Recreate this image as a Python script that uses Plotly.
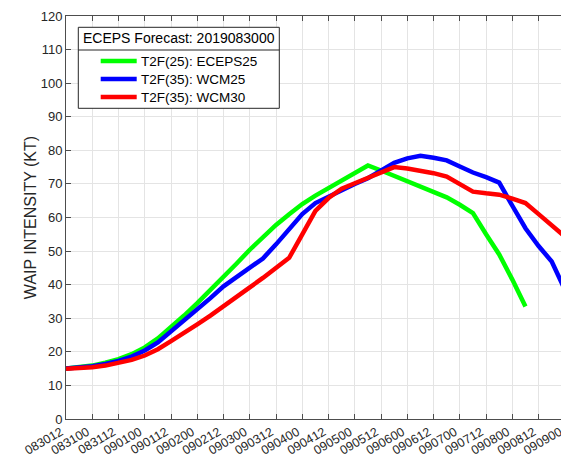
import plotly.graph_objects as go

# 6-hourly lead times (hours after 2019-08-30 12Z)
hours = [6 * k for k in range(40)]

tick_hours = [12 * k for k in range(20)]
tick_labels = ["083012", "083100", "083112", "090100", "090112", "090200", "090212",
               "090300", "090312", "090400", "090412", "090500", "090512", "090600",
               "090612", "090700", "090712", "090800", "090812", "090900"]

eceps25 = [15, 15.3, 15.9, 16.8, 17.8, 19.3, 21.3, 24, 27.3, 30.8, 34.5, 38.3, 42.2, 46.3,
           50.4, 54.2, 57.8, 61, 64, 66.5, 68.8, 71, 73.3, 75.5, 74, 72.4, 70.8, 69.1,
           67.6, 66, 63.8, 61.3, 55, 49, 41.5, 33.5]
wcm25 = [15, 15.2, 15.7, 16.4, 17.3, 18.6, 20.4, 22.8, 26, 29.2, 32.5, 36, 39.5, 42.2,
         45, 47.8, 52, 56.5, 61, 64.3, 66.3, 68.2, 70, 71.7, 74, 76.3, 77.6, 78.4,
         77.8, 77, 75.2, 73.4, 72, 70.4, 63.5, 56.8, 51.5, 46.9, 38.5, 30]
wcm30 = [15, 15.1, 15.4, 15.9, 16.6, 17.6, 18.9, 20.8, 23.2, 25.6, 28.2, 30.8, 33.5, 36.3,
         39.2, 42, 45, 48, 55, 62, 65.8, 68.6, 70.2, 71.7, 73.4, 75, 74.6, 74, 73.2,
         72.2, 70, 67.7, 67.2, 66.8, 65.6, 64.3, 61, 57.6, 54.3, 51]

series_names = ["T2F(25): ECEPS25", "T2F(35): WCM25", "T2F(35): WCM30"]
series_values = [eceps25, wcm25, wcm30]
series_colors = ["#00ff00", "#0000ff", "#ff0000"]
legend_title = "ECEPS Forecast: 2019083000"

# page has an 8px body margin; figure sized to fill the 569x461 window
W, H = 561, 453
ML, MR, MT, MB = 58, 0, 8, 42
PAGE_OFF = 8
PLOT_LEFT = ML + PAGE_OFF
PLOT_BOTTOM = H - MB + PAGE_OFF
PW, PH = W - ML - MR, H - MT - MB


def px_x(p):
    return (p - PLOT_LEFT) / PW


def px_y(p):
    return (PLOT_BOTTOM - p) / PH


fig = go.Figure()
for name, vals, color in zip(series_names, series_values, series_colors):
    fig.add_trace(go.Scatter(
        x=hours[:len(vals)], y=vals, mode="lines", name=name,
        line=dict(color=color, width=4.5), showlegend=False,
    ))

axis_col = "#4d4d4d"
grid_col = "#e4e4e4"
font_family = "Liberation Sans, Arial, sans-serif"

# legend box drawn in the upper-left corner
shapes = [
    dict(type="rect", xref="paper", yref="paper",
         x0=px_x(78.3), x1=px_x(279.3), y0=px_y(108.3), y1=px_y(27.3),
         fillcolor="white", line=dict(color="#262626", width=1), layer="above"),
    dict(type="line", xref="paper", yref="paper",
         x0=px_x(78.3), x1=px_x(279.3), y0=px_y(50), y1=px_y(50),
         line=dict(color="#262626", width=1), layer="above"),
]
annotations = [
    dict(text=legend_title, xref="paper", yref="paper", x=px_x(178.8), y=px_y(37.5),
         xanchor="center", yanchor="middle", showarrow=False,
         font=dict(size=14, color="black", family=font_family)),
]
item_y = [61, 79, 97]
for name, color, yy in zip(series_names, series_colors, item_y):
    shapes.append(dict(type="line", xref="paper", yref="paper",
                       x0=px_x(100.7), x1=px_x(136.7), y0=px_y(yy), y1=px_y(yy),
                       line=dict(color=color, width=4.5), layer="above"))
    annotations.append(dict(text=name, xref="paper", yref="paper", x=px_x(138.5), y=px_y(yy),
                            xanchor="left", yanchor="middle", showarrow=False,
                            font=dict(size=13.5, color="black", family=font_family)))

fig.update_layout(
    width=W, height=H,
    margin=dict(l=ML, r=MR, t=MT, b=MB),
    paper_bgcolor="white", plot_bgcolor="white",
    font=dict(family=font_family, color="#262626"),
    showlegend=False,
    xaxis=dict(
        range=[0, 229.9], tickmode="array", tickvals=tick_hours, ticktext=tick_labels,
        tickangle=-30, tickfont=dict(size=12.5, color="#262626"),
        ticklabeloverflow="allow", ticklabelshift=-5,
        showgrid=True, gridcolor=grid_col, gridwidth=1,
        showline=True, linecolor=axis_col, linewidth=1, mirror="ticks",
        ticks="inside", ticklen=5, tickcolor=axis_col, zeroline=False,
        automargin=False,
    ),
    yaxis=dict(
        range=[0, 120], tickmode="linear", tick0=0, dtick=10,
        tickfont=dict(size=13, color="#262626"),
        showgrid=True, gridcolor=grid_col, gridwidth=1,
        showline=True, linecolor=axis_col, linewidth=1,
        ticks="inside", ticklen=5, tickcolor=axis_col, zeroline=False,
        automargin=False,
        title=dict(text="WAIP INTENSITY (KT)", font=dict(size=16, color="#262626"),
                   standoff=0),
    ),
    shapes=shapes,
    annotations=annotations,
)

fig.write_html("out.html")
